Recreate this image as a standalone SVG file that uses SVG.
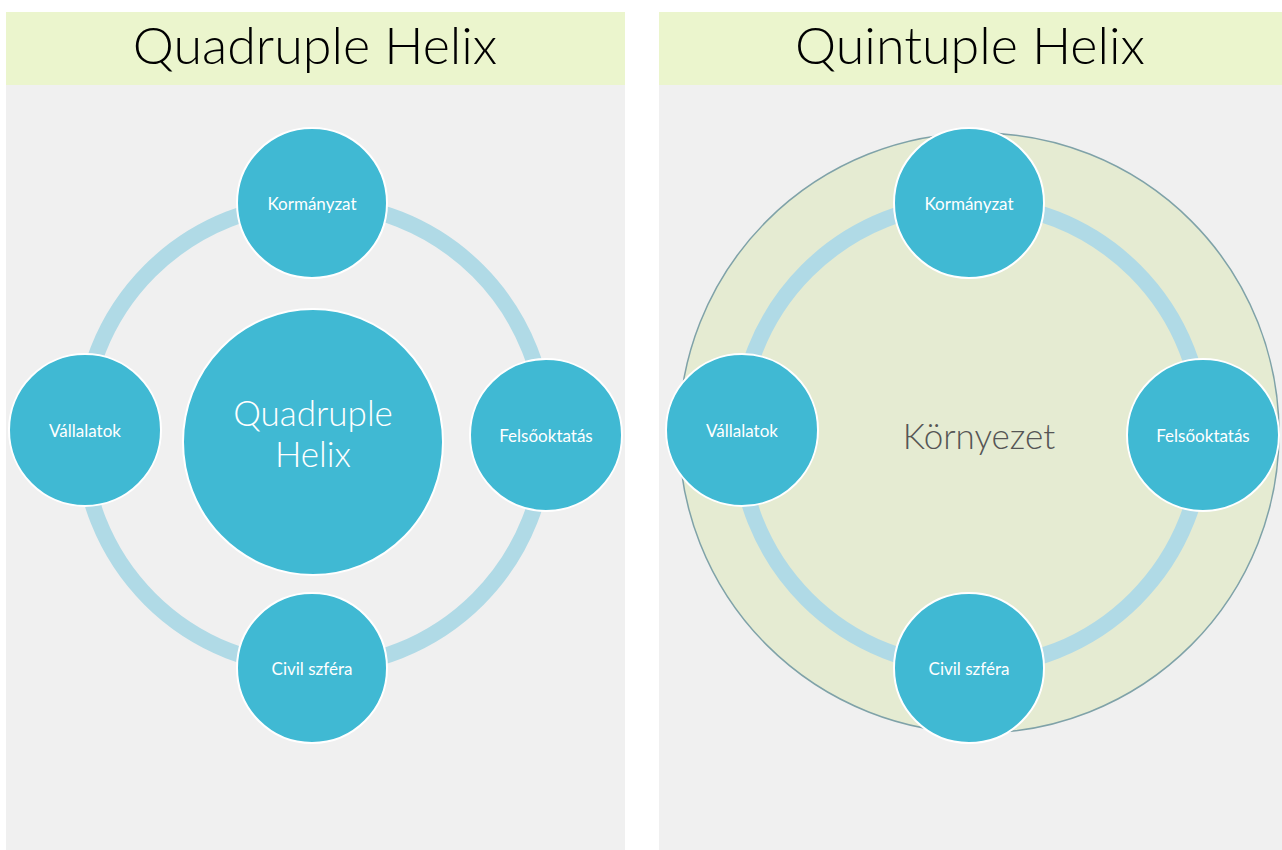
<svg xmlns="http://www.w3.org/2000/svg" width="1282" height="850" viewBox="0 0 1282 850">
<style>
.panel{fill:#f0f0f0}
.head{fill:#ebf5cd}
.title{font-family:Lato,"Open Sans",sans-serif;font-weight:300;font-size:52px;fill:#000;text-anchor:middle}
.ring{fill:none;stroke:#b0dae6;stroke-width:16}
.node{fill:#40b9d3;stroke:#fff;stroke-width:2}
.lbl{font-family:Lato,"Open Sans",sans-serif;font-size:17px;fill:#fff;text-anchor:middle;dominant-baseline:central}
.big{font-family:Lato,"Open Sans",sans-serif;font-weight:300;font-size:35px;fill:#fff;text-anchor:middle}
.env{fill:#e5ebd2;stroke:#7fa2a8;stroke-width:1.5}
</style>
<rect width="1282" height="850" fill="#fff"/>
<g id="panel-left">
<rect class="panel" x="6" y="12" width="619" height="838"/>
<rect class="head" x="6" y="12" width="619" height="73"/>
<text class="title" x="315" y="64">Quadruple Helix</text>
</g>
<g id="panel-right">
<rect class="panel" x="659" y="12" width="623" height="838"/>
<rect class="head" x="659" y="12" width="623" height="73"/>
<text class="title" x="970" y="64">Quintuple Helix</text>
</g>
<g id="env">
<circle class="env" cx="979" cy="433" r="300"/>
<text x="979" y="449" font-family="Lato,'Open Sans',sans-serif" font-weight="300" font-size="35" fill="#555" text-anchor="middle">Környezet</text>
</g>
<g id="connectors">
<circle class="ring" cx="314" cy="435" r="232"/>
<circle class="ring" cx="971" cy="435" r="232"/>
</g>
<g id="center-qh">
<ellipse class="node" cx="313" cy="442" rx="130" ry="133"/>
<text class="big" x="313" y="426">Quadruple</text>
<text class="big" x="313" y="467">Helix</text>
</g>
<g id="l-korm"><circle class="node" cx="312" cy="203" r="75"/><text class="lbl" x="312" y="203">Kormányzat</text></g>
<g id="l-vall"><circle class="node" cx="85" cy="430" r="76"/><text class="lbl" x="85" y="430">Vállalatok</text></g>
<g id="l-fels"><circle class="node" cx="546" cy="435" r="76"/><text class="lbl" x="546" y="435">Felsőoktatás</text></g>
<g id="l-civil"><circle class="node" cx="312" cy="668" r="75"/><text class="lbl" x="312" y="668">Civil szféra</text></g>
<g id="r-korm"><circle class="node" cx="969" cy="203" r="75"/><text class="lbl" x="969" y="203">Kormányzat</text></g>
<g id="r-vall"><circle class="node" cx="742" cy="430" r="76"/><text class="lbl" x="742" y="430">Vállalatok</text></g>
<g id="r-fels"><circle class="node" cx="1203" cy="435" r="76"/><text class="lbl" x="1203" y="435">Felsőoktatás</text></g>
<g id="r-civil"><circle class="node" cx="969" cy="668" r="75"/><text class="lbl" x="969" y="668">Civil szféra</text></g>
</svg>
